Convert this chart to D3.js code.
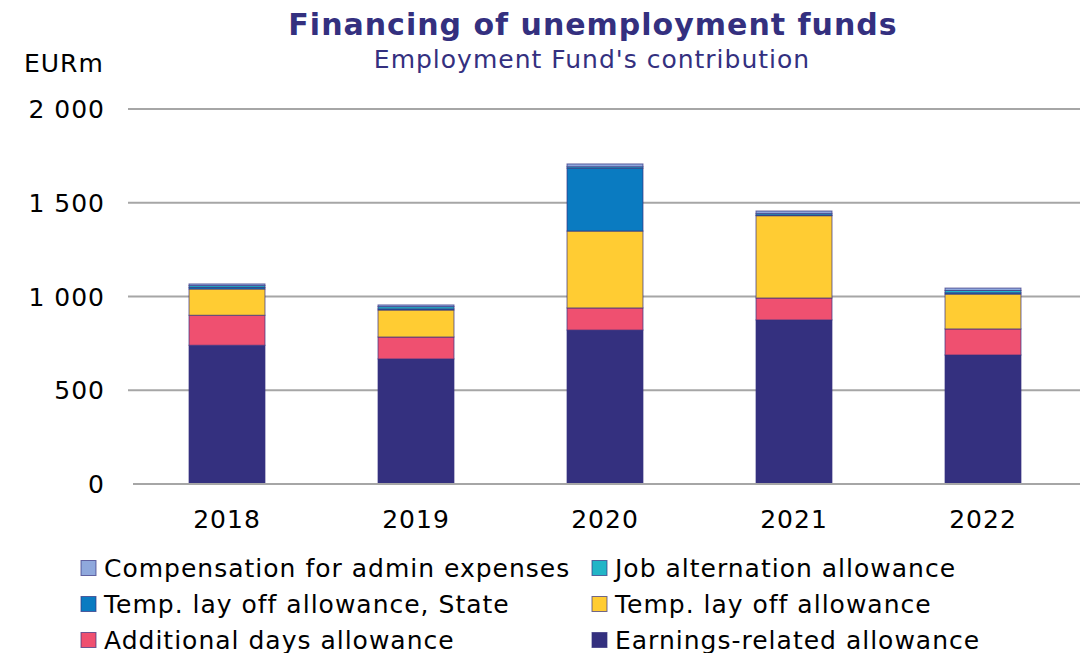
<!DOCTYPE html>
<html>
<head>
<meta charset="utf-8">
<script src="https://cdn.jsdelivr.net/npm/d3@7"></script>
<style>
  body { margin: 0; background: #fff; }
  svg text { font-family: "DejaVu Sans", Verdana, sans-serif; }
</style>
</head>
<body>
<svg id="chart" width="1084" height="653"></svg>
<script>
// Data (EUR million)
const years = ["2018", "2019", "2020", "2021", "2022"];
const earningsRelated = [740, 667, 821, 875, 688];
const additionalDays = [160, 117, 118, 117, 139];
const tempLayOff = [140, 144, 410, 439, 186];
const tempLayOffState = [8, 6, 335, 3, 7];
const jobAlternation = [10, 12, 8, 8, 12];
const adminExpenses = [9, 9, 15, 14, 13];
const yTicks = [0, 500, 1000, 1500, 2000];

const seriesNames = [
  "Earnings-related allowance",
  "Additional days allowance",
  "Temp. lay off allowance",
  "Temp. lay off allowance, State",
  "Job alternation allowance",
  "Compensation for admin expenses"
];
const seriesValues = [earningsRelated, additionalDays, tempLayOff, tempLayOffState, jobAlternation, adminExpenses];
const colors = ["#34307f", "#ef5070", "#ffcc33", "#0a7bc1", "#22b5c7", "#8fa8dc"];

const svg = d3.select("#chart");
const navy = "#34307f";

// Titles
svg.append("text")
  .attr("x", 593).attr("y", 35)
  .attr("text-anchor", "middle")
  .attr("font-size", 30).attr("font-weight", "bold")
  .attr("letter-spacing", 1)
  .attr("fill", navy)
  .text("Financing of unemployment funds");

svg.append("text")
  .attr("x", 592).attr("y", 68)
  .attr("text-anchor", "middle")
  .attr("font-size", 25)
  .attr("letter-spacing", 1)
  .attr("fill", navy)
  .text("Employment Fund's contribution");

svg.append("text")
  .attr("x", 24).attr("y", 72)
  .attr("font-size", 25)
  .attr("letter-spacing", 1)
  .attr("fill", "#000")
  .text("EURm");

// Scales
const x = d3.scaleBand()
  .domain(years)
  .range([132.5, 1077.5])
  .paddingInner(0.598)
  .paddingOuter(0.299);

const y = d3.scaleLinear()
  .domain([0, 2000])
  .range([484, 109]);

// Gridlines
svg.append("g")
  .selectAll("line")
  .data(yTicks.filter(d => d > 0))
  .enter().append("line")
  .attr("x1", 128).attr("x2", 1080)
  .attr("y1", d => y(d)).attr("y2", d => y(d))
  .attr("stroke", "#a6a6a6")
  .attr("stroke-width", 2);

// Y labels
svg.append("g")
  .selectAll("text")
  .data(yTicks)
  .enter().append("text")
  .attr("x", 105)
  .attr("y", d => y(d) + 9)
  .attr("text-anchor", "end")
  .attr("font-size", 25)
  .attr("letter-spacing", 1)
  .text(d => d3.format(",")(d).replace(",", " "));

// Stacked bars
const table = years.map((yr, i) => {
  const row = { year: yr };
  seriesNames.forEach((s, j) => row[s] = seriesValues[j][i]);
  return row;
});
const stacked = d3.stack().keys(seriesNames)(table);

svg.append("g")
  .selectAll("g")
  .data(stacked)
  .enter().append("g")
  .attr("fill", (d, i) => colors[i])
  .selectAll("rect")
  .data(d => d)
  .enter().append("rect")
  .attr("x", d => x(d.data.year))
  .attr("width", x.bandwidth())
  .attr("y", d => y(d[1]))
  .attr("height", d => y(d[0]) - y(d[1]))
  .attr("stroke", navy)
  .attr("stroke-opacity", 0.7)
  .attr("stroke-width", 1);

// Baseline
svg.append("line")
  .attr("x1", 133).attr("x2", 1080)
  .attr("y1", y(0)).attr("y2", y(0))
  .attr("stroke", "#a6a6a6")
  .attr("stroke-width", 2);

// X labels
svg.append("g")
  .selectAll("text")
  .data(years)
  .enter().append("text")
  .attr("x", d => x(d) + x.bandwidth() / 2)
  .attr("y", 528)
  .attr("text-anchor", "middle")
  .attr("font-size", 25)
  .attr("letter-spacing", 1)
  .text(d => d);

// Legend
const legendItems = [
  { name: seriesNames[5], color: colors[5], col: 0, row: 0 },
  { name: seriesNames[4], color: colors[4], col: 1, row: 0 },
  { name: seriesNames[3], color: colors[3], col: 0, row: 1 },
  { name: seriesNames[2], color: colors[2], col: 1, row: 1 },
  { name: seriesNames[1], color: colors[1], col: 0, row: 2 },
  { name: seriesNames[0], color: colors[0], col: 1, row: 2 }
];
const legend = svg.append("g")
  .selectAll("g")
  .data(legendItems)
  .enter().append("g")
  .attr("transform", d => `translate(${d.col === 0 ? 81 : 592},${568 + d.row * 36})`);

legend.append("rect")
  .attr("x", 0).attr("y", -7.5)
  .attr("width", 15).attr("height", 15)
  .attr("fill", d => d.color)
  .attr("stroke", navy)
  .attr("stroke-opacity", 0.7)
  .attr("stroke-width", 1);

legend.append("text")
  .attr("x", 23).attr("y", 9)
  .attr("font-size", 25)
  .attr("letter-spacing", 1)
  .text(d => d.name);
</script>
</body>
</html>
